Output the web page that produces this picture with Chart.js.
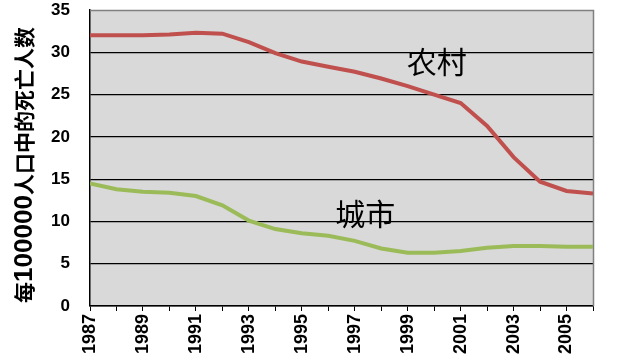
<!DOCTYPE html>
<html>
<head>
<meta charset="utf-8">
<script src="https://cdn.jsdelivr.net/npm/chart.js@4.4.1/dist/chart.umd.min.js"></script>
<style>
html,body{margin:0;padding:0;background:#fff;}
#wrap{width:617px;height:360px;}
</style>
</head>
<body>
<div id="wrap"><canvas id="c" width="617" height="360"></canvas></div>
<script>
// ---- data ----
const years = [1987,1988,1989,1990,1991,1992,1993,1994,1995,1996,1997,1998,1999,2000,2001,2002,2003,2004,2005,2006];
const rural = [32.0,32.0,32.0,32.1,32.3,32.2,31.2,29.9,28.9,28.3,27.7,26.9,26.0,25.0,24.0,21.3,17.6,14.7,13.6,13.3];
const urban = [14.5,13.8,13.5,13.4,13.0,11.9,10.1,9.1,8.6,8.3,7.7,6.8,6.3,6.3,6.5,6.9,7.1,7.1,7.0,7.0];
const yTicks = [0,5,10,15,20,25,30,35];
const seriesNames = ['农村','城市'];
const labelYears = [2000.1, 1997.4];
const labelValues = [28.85, 10.9];
const yTitleParts = [['每','cjk'],['100000','lat'],['人口中的死亡人数','cjk']];

const bgPlugin = {
  id:'bg',
  beforeDraw(chart){
    const {ctx, chartArea:a} = chart;
    ctx.save();
    ctx.fillStyle = '#D9D9D9';
    ctx.fillRect(a.left, a.top, a.right-a.left, a.bottom-a.top);
    ctx.restore();
  },
  beforeDatasetsDraw(chart){
    const {ctx, chartArea:a} = chart;
    ctx.save();
    ctx.strokeStyle = '#808080';
    ctx.lineWidth = 1.5;
    ctx.beginPath();
    ctx.moveTo(a.left, a.top+0.5);
    ctx.lineTo(a.right+0.5, a.top+0.5);
    ctx.lineTo(a.right+0.5, a.bottom);
    ctx.stroke();
    ctx.restore();
  },
  afterDraw(chart){
    const {ctx} = chart;
    const xs = chart.scales.x, ys = chart.scales.y;
    ctx.save();
    ctx.fillStyle = '#000';
    ctx.textAlign = 'center';
    ctx.textBaseline = 'middle';
    ctx.font = '30px "Noto Sans CJK SC"';
    for (let i=0;i<seriesNames.length;i++){
      ctx.fillText(seriesNames[i], xs.getPixelForValue(labelYears[i]), ys.getPixelForValue(labelValues[i]));
    }
    ctx.restore();
    // y axis title
    ctx.save();
    ctx.translate(24, 165);
    ctx.rotate(-Math.PI/2);
    ctx.fillStyle = '#000';
    ctx.textBaseline = 'middle';
    ctx.textAlign = 'left';
    const fonts = {cjk:'bold 21px "Noto Sans CJK SC"', lat:'bold 26px "Liberation Sans", Arial'};
    let total = 0;
    const widths = yTitleParts.map(p=>{ctx.font = fonts[p[1]]; const w = ctx.measureText(p[0]).width; total += w; return w;});
    let x = -total/2;
    yTitleParts.forEach((p,i)=>{ctx.font = fonts[p[1]]; ctx.fillText(p[0], x, p[1]==='lat'?1:0); x += widths[i];});
    ctx.restore();
  }
};

new Chart(document.getElementById('c'), {
  type:'line',
  data:{
    datasets:[
      {label:seriesNames[0], data:years.map((y,i)=>({x:y,y:rural[i]})), borderColor:'#C0504D', borderWidth:4, pointRadius:0, tension:0, fill:false},
      {label:seriesNames[1], data:years.map((y,i)=>({x:y,y:urban[i]})), borderColor:'#9BBB59', borderWidth:4, pointRadius:0, tension:0, fill:false}
    ]
  },
  options:{
    responsive:false,
    animation:false,
    layout:{padding:{left:0,right:24,top:10,bottom:0}},
    plugins:{legend:{display:false}, tooltip:{enabled:false}},
    scales:{
      x:{
        type:'linear', min:years[0], max:years[years.length-1],
        afterBuildTicks(s){ s.ticks = years.map(v=>({value:v})); },
        afterFit(s){ s.height = 54; s.paddingLeft = 0; s.paddingRight = 0; },
        ticks:{
          autoSkip:false, maxRotation:90, minRotation:90, padding:3,
          color:'#000', font:{family:'"Liberation Sans", Arial', size:18, weight:'bold'},
          callback:(v)=> (v%2===1 ? String(v) : '')
        },
        grid:{drawOnChartArea:false, drawTicks:true, tickLength:5, color:'#000', lineWidth:1},
        border:{display:true, color:'#000', width:1.5}
      },
      y:{
        min:0, max:35,
        afterBuildTicks(s){ s.ticks = yTicks.map(v=>({value:v})); },
        afterFit(s){ s.width = 90; s.paddingTop = 0; s.paddingBottom = 0; },
        ticks:{
          padding:20, color:'#000',
          font:{family:'"Liberation Sans Narrow", "Liberation Sans", Arial', size:17, weight:'bold'}
        },
        grid:{drawTicks:false, color:(c)=> c.tick && c.tick.value===35 ? 'rgba(0,0,0,0)' : '#000', lineWidth:1.2},
        border:{display:true, color:'#000', width:1.5}
      }
    }
  },
  plugins:[bgPlugin]
});
</script>
</body>
</html>
